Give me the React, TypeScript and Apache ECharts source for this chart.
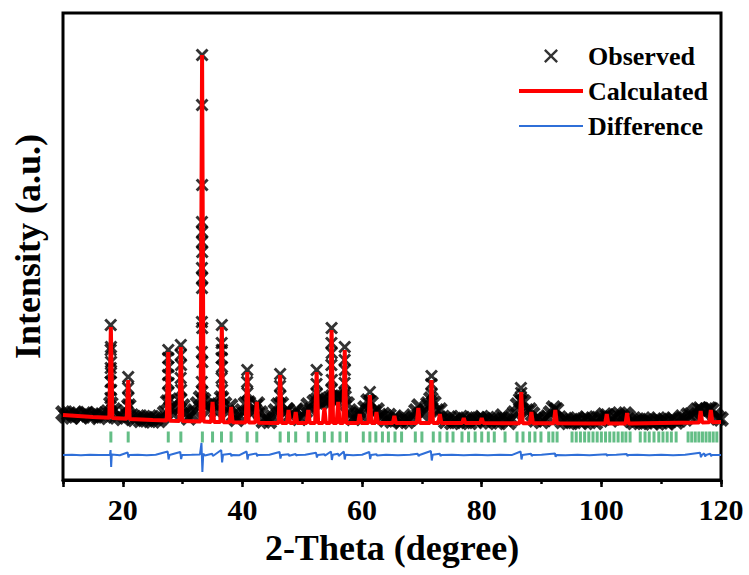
import React, { useEffect, useRef } from 'react';
import * as echarts from 'echarts';

// ---------- data (2θ in degrees, intensity in arbitrary units) ----------
const OBS_START = 10; // first observed step, degrees
const OBS_STEP = 0.5; // observed step width, degrees
// observed intensities off the strong peak tops, one value per step (10 → 120)
const observedProfile = [
  670, 640, 660, 630, 670, 650, 630, 660, 665, 640,
  640, 660, 625, 650, 640, 680, 760, 700, 630, 645,
  615, 680, 740, 640, 605, 630, 595, 625, 600, 630,
  590, 615, 595, 625, 670, 780, 720, 660, 730, 800,
  740, 670, 620, 655, 690, 760, 820, 800, 740, 700,
  770, 690, 750, 820, 760, 680, 740, 650, 605, 640,
  690, 760, 770, 670, 700, 760, 670, 590, 625, 585,
  630, 690, 750, 760, 670, 700, 650, 660, 700, 615,
  640, 690, 750, 700, 780, 800, 770, 800, 780, 810,
  830, 800, 840, 820, 830, 760, 660, 615, 650, 690,
  640, 720, 790, 770, 680, 700, 630, 655, 600, 645,
  590, 630, 605, 580, 615, 585, 610, 640, 690, 740,
  660, 690, 760, 810, 770, 690, 700, 625, 585, 620,
  575, 605, 585, 625, 585, 610, 575, 615, 585, 610,
  625, 595, 615, 580, 605, 575, 605, 640, 605, 575,
  610, 670, 750, 800, 780, 690, 700, 660, 600, 620,
  585, 605, 630, 670, 720, 700, 620, 585, 605, 575,
  595, 585, 610, 575, 600, 620, 585, 610, 575, 615,
  620, 650, 640, 600, 620, 640, 660, 630, 660, 630,
  595, 575, 600, 575, 610, 580, 595, 570, 590, 610,
  580, 600, 570, 595, 610, 580, 600, 630, 610, 650,
  650, 670, 700, 710, 680, 700, 710, 700, 650, 620,
  610,
];

// observed points on the flanks and tops of the Bragg peaks
const observedPeakPoints: [number, number][] = [
  [17.98, 1550], [18.02, 1330], [17.97, 1300], [18.03, 1180], [17.98, 1120], [18.02, 1070], [17.96, 980], [18.04, 900], [17.95, 820],
  [20.9, 1030], [20.88, 920], [20.93, 820],
  [27.6, 1300], [27.58, 1220], [27.63, 1130], [27.57, 1050], [27.64, 970], [27.56, 870],
  [29.7, 1350], [29.68, 1250], [29.73, 1150], [29.67, 1020], [29.74, 900],
  [33.25, 4250], [33.24, 3750], [33.26, 2950], [33.23, 2580], [33.27, 2480], [33.24, 2380], [33.27, 2280],
  [33.23, 2120], [33.27, 2020], [33.24, 1920], [33.22, 1580], [33.28, 1520], [33.21, 1280], [33.29, 1180],
  [33.2, 980], [33.3, 880],
  [36.55, 1550], [36.53, 1370], [36.57, 1300], [36.52, 1220], [36.58, 1130], [36.51, 1020], [36.59, 900],
  [40.8, 1100], [40.78, 980], [40.83, 870],
  [42.4, 750],
  [46.3, 1060], [46.28, 940], [46.33, 840],
  [52.4, 1100], [52.38, 960], [52.43, 860],
  [54.9, 1520], [54.88, 1370], [54.92, 1270], [54.87, 1150], [54.93, 1000], [54.86, 900],
  [56.0, 850],
  [57.1, 1330], [57.08, 1200], [57.12, 1100], [57.07, 970], [57.13, 870],
  [61.3, 880], [61.28, 790],
  [71.6, 1040], [71.58, 960], [71.63, 860],
  [86.55, 920], [86.6, 870], [86.5, 790],
  [92.3, 710],
  [116.6, 710],
  [118.3, 720],
];

// calculated profile
const calculated: [number, number][] = [
  [10, 650], [15, 630],
  [17.75, 622], [18.0, 1530], [18.25, 621],
  [20.65, 612], [20.9, 1000], [21.15, 611],
  [25, 600],
  [27.35, 594], [27.6, 1280], [27.85, 593],
  [29.45, 591], [29.7, 1330], [29.95, 590],
  [33.0, 586], [33.25, 4250], [33.5, 585],
  [34.75, 581], [35.0, 780], [35.25, 580],
  [36.3, 579], [36.55, 1530], [36.8, 578],
  [37.85, 577], [38.1, 730], [38.35, 577],
  [40.55, 575], [40.8, 1080], [41.05, 575],
  [42.15, 574], [42.4, 780], [42.65, 573],
  [45, 570],
  [46.05, 570], [46.3, 1050], [46.55, 570],
  [47.45, 570], [47.7, 700], [47.95, 570],
  [48.65, 570], [48.9, 680], [49.15, 570],
  [50.75, 570], [51.0, 700], [51.25, 570],
  [52.15, 570], [52.4, 1080], [52.65, 570],
  [53.45, 570], [53.7, 720], [53.95, 570],
  [54.65, 570], [54.9, 1500], [55.15, 570],
  [55.75, 570], [56.0, 780], [56.25, 570],
  [56.85, 570], [57.1, 1300], [57.35, 570],
  [59.35, 570], [59.6, 660], [59.85, 570],
  [61.05, 570], [61.3, 850], [61.55, 570],
  [62.15, 570], [62.4, 680], [62.65, 570],
  [65.15, 570], [65.4, 640], [65.65, 570],
  [69.15, 570], [69.4, 720], [69.65, 570],
  [71.35, 570], [71.6, 1000], [71.85, 570],
  [72.75, 570], [73.0, 660], [73.25, 570],
  [76.75, 570], [77.0, 620], [77.25, 570],
  [79.75, 570], [80.0, 620], [80.25, 570],
  [86.35, 568], [86.6, 880], [86.85, 568],
  [88.05, 568], [88.3, 680], [88.55, 568],
  [92.05, 567], [92.3, 700], [92.55, 567],
  [100.65, 566], [100.9, 660], [101.15, 566],
  [104.05, 566], [104.3, 670], [104.55, 566],
  [110, 570],
  [116.35, 574], [116.6, 690], [116.85, 575],
  [118.05, 577], [118.3, 700], [118.55, 578],
  [120, 580],
];

// difference curve (observed − calculated, offset)
const difference: [number, number][] = [
  [10, 250], [11.5, 253], [13, 248], [14.5, 252], [16, 249], [17.85, 252], [17.95, 300], [18.05, 130], [18.15, 255], [19.5, 248],
  [20.8, 275], [20.95, 225], [21.1, 250], [22.5, 253], [24, 248], [25.5, 252], [27.5, 285], [27.65, 205], [27.8, 250],
  [29.6, 280], [29.75, 210], [29.9, 250], [31.5, 253], [32.9, 256], [33.15, 370], [33.3, 80], [33.45, 262], [33.7, 246],
  [34.95, 262], [35.05, 240], [35.3, 250], [36.45, 300], [36.6, 175], [36.75, 252], [38.05, 262], [38.15, 238], [38.3, 250],
  [39.5, 248], [40.7, 285], [40.85, 205], [41.0, 250], [42.35, 265], [42.45, 238], [42.6, 250], [44.5, 252],
  [46.2, 280], [46.35, 215], [46.5, 250], [47.7, 258], [47.8, 242], [48.9, 260], [49.0, 242], [49.15, 250], [50.5, 252],
  [52.3, 272], [52.45, 225], [52.6, 250], [53.7, 258], [53.8, 244], [54.8, 285], [54.95, 200], [55.1, 252], [56.0, 262], [56.1, 240],
  [56.95, 285], [57.1, 205], [57.25, 252], [58.5, 248], [60, 252], [61.2, 280], [61.35, 210], [61.5, 250], [62.4, 258], [62.5, 244],
  [64, 252], [66, 248], [68, 252], [69.3, 262], [69.45, 238], [69.6, 250], [71.5, 290], [71.65, 195], [71.8, 252], [73.0, 262], [73.1, 240], [73.25, 250],
  [75, 252], [77, 248], [79, 252], [81, 248], [83, 252], [85, 249],
  [86.5, 285], [86.65, 205], [86.8, 250], [88.25, 262], [88.35, 240], [88.5, 250], [90, 252], [92.25, 265], [92.35, 232], [92.5, 250],
  [94, 248], [96, 252], [98, 248], [100.85, 258], [100.95, 242], [101.1, 250], [102.5, 252], [104.25, 260], [104.35, 240], [104.5, 250],
  [106, 252], [108, 248], [110, 252], [112, 248], [114, 252],
  [116.5, 272], [116.65, 228], [116.8, 250], [117.2, 266], [117.35, 234], [117.5, 250], [118.2, 264], [118.35, 238], [118.5, 250], [120, 250],
];

// Bragg reflection positions
const braggPositions = [
  18.0, 20.9, 27.6, 29.7, 33.3, 35.0, 36.5, 38.1, 40.8, 42.4, 46.3, 47.7, 48.9, 51.0,
  52.4, 53.7, 55.0, 56.3, 57.4, 60.2, 61.3, 62.3, 63.4, 64.4, 65.5, 66.6, 68.9, 70.0,
  71.9, 73.0, 74.2, 75.2, 76.7, 77.8, 78.9, 80.0, 81.1, 82.1, 83.9, 85.9, 86.9, 88.0, 88.9, 89.9,
  91.2, 91.9, 92.6,
  95.1, 95.8, 96.5, 97.2, 97.9, 98.6, 99.3, 100.0, 100.7, 101.4, 102.1, 102.8, 103.5, 104.1, 104.8,
  106.5, 107.3, 108.0, 108.8, 109.6, 110.3, 111.0, 111.7, 112.5,
  114.5, 115.1, 115.7, 116.3, 116.9, 117.5, 118.1, 118.7, 119.3,
];
const BRAGG_LEVEL = 430;

const xTickLabels = [20, 40, 60, 80, 100, 120];

// ---------- styling ----------
const SERIF = '"Liberation Serif", "Times New Roman", serif';
const X_BAND = 'path://M20,0L50,30L80,0L100,20L70,50L100,80L80,100L50,70L20,100L0,80L30,50L0,20Z';
const X_PATH = 'path://M16,0L50,34L84,0L100,16L66,50L100,84L84,100L50,66L16,100L0,84L34,50L0,16Z';
const X_LEGEND = 'path://M12,0L50,38L88,0L100,12L62,50L100,88L88,100L50,62L12,100L0,88L38,50L0,12Z';
const LINE_THICK = 'path://M0,0L64,0L64,4L0,4Z';
const LINE_THIN = 'path://M0,0L64,0L64,2L0,2Z';
const RED = '#ff0000';
const BLUE = '#2f6fd8';
const GREEN = '#3dae68';

export default function App() {
  const ref = useRef<HTMLDivElement>(null);

  useEffect(() => {
    if (!ref.current) return;
    const chart = echarts.init(ref.current, null, { renderer: 'svg' });

    const profileData: [number, number][] = observedProfile.map(
      (v, i) => [OBS_START + i * OBS_STEP, v] as [number, number],
    );

    const axisFont = { fontFamily: SERIF, fontWeight: 'bold' as const, color: '#000' };

    chart.setOption({
      animation: false,
      backgroundColor: '#fff',
      grid: {
        left: 63,
        right: 28,
        top: 13,
        bottom: 95,
        show: true,
        borderColor: '#000',
        borderWidth: 3,
        outerBoundsMode: 'none',
      },
      legend: {
        orient: 'vertical',
        left: 514,
        top: 36,
        itemWidth: 64,
        itemHeight: 14,
        itemGap: 5,
        selectedMode: false,
        symbolKeepAspect: true,
        textStyle: { ...axisFont, fontSize: 26, lineHeight: 30 },
        data: [
          { name: 'Observed', icon: X_LEGEND },
          { name: 'Calculated', icon: LINE_THICK },
          { name: 'Difference', icon: LINE_THIN },
        ],
      },
      xAxis: [
        {
          type: 'value',
          min: 10,
          max: 120,
          interval: 10,
          position: 'bottom',
          axisLine: { show: true, onZero: false, lineStyle: { color: '#000', width: 3 } },
          axisTick: { show: true, inside: false, length: 4, lineStyle: { color: '#000', width: 2.5 } },
          axisLabel: {
            fontFamily: SERIF,
            fontWeight: 'bold',
            color: '#000',
            fontSize: 30,
            margin: 14,
            formatter: (v: number) => (xTickLabels.includes(v) ? String(v) : ''),
          },
          splitLine: { show: false },
          name: '2-Theta (degree)',
          nameLocation: 'middle',
          nameGap: 50,
          nameTextStyle: { ...axisFont, fontSize: 36 },
        },
        {
          type: 'value',
          min: 10,
          max: 120,
          splitNumber: 5,
          position: 'bottom',
          axisLine: { show: false, onZero: false },
          axisTick: { show: true, inside: false, length: 7, lineStyle: { color: '#000', width: 2.5 } },
          axisLabel: { show: false },
          splitLine: { show: false },
        },
      ],
      yAxis: {
        type: 'value',
        min: 0,
        max: 4670,
        axisLine: { show: false },
        axisTick: { show: false },
        axisLabel: { show: false },
        splitLine: { show: false },
        name: 'Intensity (a.u.)',
        nameLocation: 'middle',
        nameGap: 17,
        nameTextStyle: { ...axisFont, fontSize: 36 },
      },
      series: [
        {
          name: 'Observed',
          type: 'scatter',
          xAxisIndex: 0,
          symbol: X_BAND,
          symbolSize: 16,
          symbolKeepAspect: true,
          itemStyle: { color: '#000' },
          data: profileData,
          z: 2,
        },
        {
          name: 'Observed',
          type: 'scatter',
          xAxisIndex: 0,
          symbol: X_PATH,
          symbolSize: 13,
          symbolKeepAspect: true,
          itemStyle: { color: '#000' },
          data: observedPeakPoints,
          z: 2,
        },
        {
          name: 'Calculated',
          type: 'line',
          xAxisIndex: 0,
          data: calculated,
          symbol: 'none',
          showSymbol: false,
          lineStyle: { color: RED, width: 4 },
          itemStyle: { color: RED },
          z: 3,
        },
        {
          name: 'Difference',
          type: 'line',
          xAxisIndex: 0,
          data: difference,
          symbol: 'none',
          showSymbol: false,
          lineStyle: { color: BLUE, width: 2 },
          itemStyle: { color: BLUE },
          z: 3,
        },
        {
          name: 'Bragg positions',
          type: 'scatter',
          xAxisIndex: 0,
          symbol: 'rect',
          symbolSize: [3, 11],
          itemStyle: { color: GREEN },
          data: braggPositions.map((p) => [p, BRAGG_LEVEL]),
          z: 2,
        },
      ],
    });

    return () => chart.dispose();
  }, []);

  return (
    <div
      ref={ref}
      style={{ position: 'fixed', left: 0, top: 0, width: 749, height: 575, background: '#fff' }}
    />
  );
}
